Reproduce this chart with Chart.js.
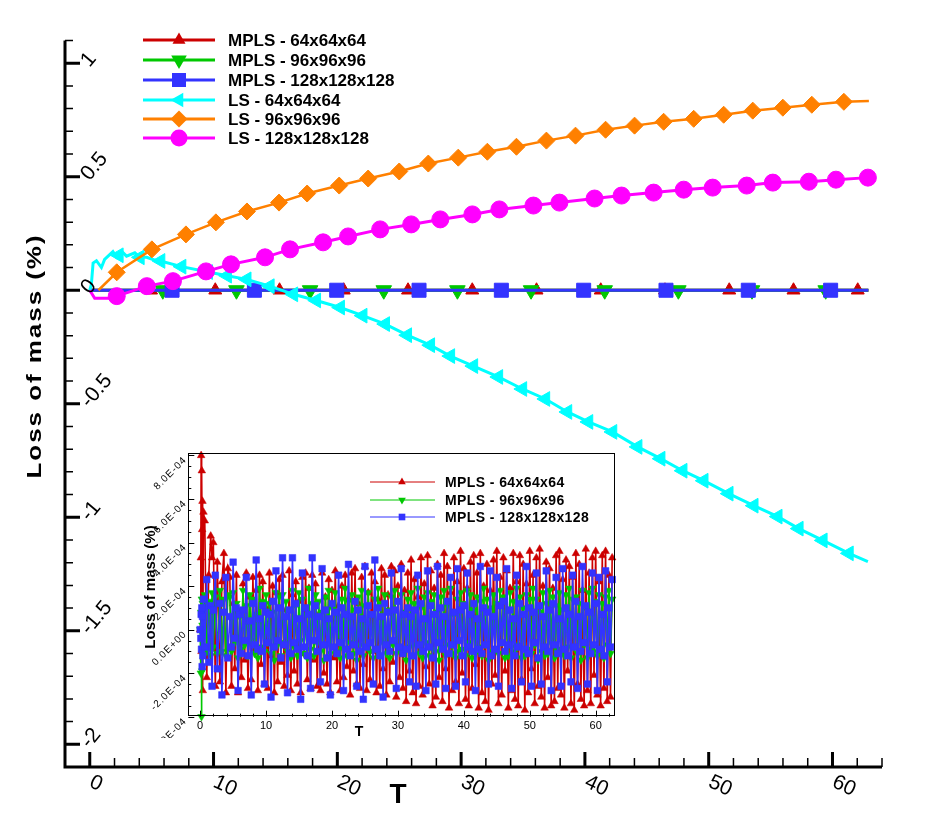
<!DOCTYPE html>
<html>
<head>
<meta charset="utf-8">
<title>Loss of mass</title>
<script src="https://cdn.jsdelivr.net/npm/chart.js@4.4.1/dist/chart.umd.min.js"></script>
<style>
  html, body { margin: 0; padding: 0; background: #fff; }
  #wrap { position: relative; width: 929px; height: 826px; }
  #main  { position: absolute; left: 0; top: 0; }
  #inset { position: absolute; left: 130px; top: 440px; }
</style>
</head>
<body>
<div id="wrap">
  <canvas id="main" width="929" height="826"></canvas>
  <canvas id="inset" width="490" height="310"></canvas>
</div>
<script>
/* ============================================================
   Loss of mass (%) vs T  -  main plot + MPLS zoom inset
   ============================================================ */

/* ---------- Main plot: axes ---------- */
const mainXTicks  = [0, 10, 20, 30, 40, 50, 60];
const mainXLabels = ["0", "10", "20", "30", "40", "50", "60"];
const mainYTicks  = [-2, -1.5, -1, -0.5, 0, 0.5, 1];
const mainYLabels = ["-2", "-1.5", "-1", "-0.5", "0", "0.5", "1"];

const seriesLabels = ["MPLS - 64x64x64", "MPLS - 96x96x96", "MPLS - 128x128x128",
                      "LS - 64x64x64", "LS - 96x96x96", "LS - 128x128x128"];

/* ---------- Main plot: MPLS (flat at zero) ---------- */
const mpls64LineT  = [0, 62.9];
const mpls64LineV  = [0, 0];
const mpls64MarkT  = [4.95, 10.14, 15.33, 20.52, 25.71, 30.9, 36.09, 41.28, 46.47, 51.66, 56.85, 62.04];
const mpls64MarkV  = [0, 0, 0, 0, 0, 0, 0, 0, 0, 0, 0, 0];

const mpls96LineT  = [0, 62.9];
const mpls96LineV  = [0, 0];
const mpls96MarkT  = [5.9, 11.85, 17.8, 23.75, 29.7, 35.65, 41.6, 47.55, 53.5, 59.45];
const mpls96MarkV  = [0, 0, 0, 0, 0, 0, 0, 0, 0, 0];

const mpls128LineT = [0, 62.9];
const mpls128LineV = [0, 0];
const mpls128MarkT = [6.65, 13.3, 19.95, 26.6, 33.25, 39.9, 46.55, 53.2, 59.85];
const mpls128MarkV = [0, 0, 0, 0, 0, 0, 0, 0, 0];

/* ---------- Main plot: LS 64 (cyan) ---------- */
const ls64LineT = [0, 0.13, 0.27, 0.54, 0.94, 1.2, 1.87, 2.16, 2.35, 2.56, 2.97, 3.64, 4.05, 4.59, 5.4, 5.72,
                   7.42, 9.57, 11.1, 12.68, 14.55, 16.45, 18.3, 20.23, 22.05, 23.87, 25.65, 27.51, 29.13, 30.99,
                   33.01, 34.95, 36.81, 38.59, 40.29, 42.23, 44.26, 46.12, 47.9, 49.6, 51.62, 53.64, 55.58,
                   57.28, 59.22, 61.33, 62.86];
const ls64LineV = [0, 0.026, 0.12, 0.13, 0.1, 0.136, 0.17, 0.145, 0.154, 0.172, 0.15, 0.165, 0.145, 0.145, 0.13, 0.129,
                   0.104, 0.08, 0.064, 0.048, 0.018, -0.018, -0.045, -0.076, -0.112, -0.149, -0.198, -0.242, -0.29, -0.334,
                   -0.382, -0.435, -0.479, -0.536, -0.58, -0.624, -0.69, -0.742, -0.795, -0.839, -0.896, -0.949, -0.997,
                   -1.05, -1.102, -1.159, -1.195];
const ls64MarkT = [2.35, 4.05, 5.72, 7.42, 9.57, 11.1, 12.68, 14.55, 16.45, 18.3, 20.23, 22.05, 23.87, 25.65, 27.51,
                   29.13, 30.99, 33.01, 34.95, 36.81, 38.59, 40.29, 42.23, 44.26, 46.12, 47.9, 49.6, 51.62, 53.64,
                   55.58, 57.28, 59.22, 61.33];
const ls64MarkV = [0.154, 0.145, 0.129, 0.104, 0.08, 0.064, 0.048, 0.018, -0.018, -0.045, -0.076, -0.112, -0.149, -0.198,
                   -0.242, -0.29, -0.334, -0.382, -0.435, -0.479, -0.536, -0.58, -0.624, -0.69, -0.742, -0.795, -0.839,
                   -0.896, -0.949, -0.997, -1.05, -1.102, -1.159];

/* ---------- Main plot: LS 96 (orange) ---------- */
const ls96LineT = [0.7, 2.18, 5.02, 7.77, 10.19, 12.7, 15.29, 17.56, 20.15, 22.49, 25.0, 27.35, 29.77, 32.12,
                   34.47, 36.89, 39.24, 41.67, 44.01, 46.36, 48.79, 51.21, 53.56, 55.99, 58.33, 60.92, 62.94];
const ls96LineV = [0, 0.079, 0.18, 0.246, 0.299, 0.347, 0.386, 0.426, 0.461, 0.492, 0.523, 0.558, 0.584, 0.61,
                   0.632, 0.659, 0.681, 0.707, 0.725, 0.742, 0.755, 0.773, 0.791, 0.804, 0.817, 0.83, 0.834];
const ls96MarkT = [2.18, 5.02, 7.77, 10.19, 12.7, 15.29, 17.56, 20.15, 22.49, 25.0, 27.35, 29.77, 32.12,
                   34.47, 36.89, 39.24, 41.67, 44.01, 46.36, 48.79, 51.21, 53.56, 55.99, 58.33, 60.92];
const ls96MarkV = [0.079, 0.18, 0.246, 0.299, 0.347, 0.386, 0.426, 0.461, 0.492, 0.523, 0.558, 0.584, 0.61,
                   0.632, 0.659, 0.681, 0.707, 0.725, 0.742, 0.755, 0.773, 0.791, 0.804, 0.817, 0.83];

/* ---------- Main plot: LS 128 (magenta) ---------- */
const ls128LineT = [0, 0.4, 1.5, 2.18, 4.61, 6.72, 9.39, 11.41, 14.16, 16.18, 18.85, 20.87, 23.46, 25.97, 28.32,
                    30.91, 33.09, 35.84, 37.94, 40.78, 42.96, 45.55, 47.98, 50.32, 53.07, 55.18, 58.09, 60.28, 62.86];
const ls128LineV = [0, -0.035, -0.035, -0.026, 0.018, 0.04, 0.083, 0.114, 0.145, 0.18, 0.211, 0.237, 0.268, 0.29, 0.312,
                    0.334, 0.356, 0.373, 0.386, 0.404, 0.417, 0.43, 0.443, 0.452, 0.461, 0.474, 0.478, 0.487, 0.496];
const ls128MarkT = [2.18, 4.61, 6.72, 9.39, 11.41, 14.16, 16.18, 18.85, 20.87, 23.46, 25.97, 28.32,
                    30.91, 33.09, 35.84, 37.94, 40.78, 42.96, 45.55, 47.98, 50.32, 53.07, 55.18, 58.09, 60.28, 62.86];
const ls128MarkV = [-0.026, 0.018, 0.04, 0.083, 0.114, 0.145, 0.18, 0.211, 0.237, 0.268, 0.29, 0.312,
                    0.334, 0.356, 0.373, 0.386, 0.404, 0.417, 0.43, 0.443, 0.452, 0.461, 0.474, 0.478, 0.487, 0.496];

/* ---------- Inset: MPLS only, values in units of 1E-04 % ---------- */
const insetXTicks  = [0, 10, 20, 30, 40, 50, 60];
const insetXLabels = ["0", "10", "20", "30", "40", "50", "60"];
const insetYTicks  = [-4, -2, 0, 2, 4, 6, 8];
const insetYLabels = ["-4.0E-04", "-2.0E-04", "0.0E+00", "2.0E-04", "4.0E-04", "6.0E-04", "8.0E-04"];
const insetLabels  = ["MPLS - 64x64x64", "MPLS - 96x96x96", "MPLS - 128x128x128"];

const insetT = [0, 0.1, 0.15, 0.2, 0.25, 0.3, 0.35, 0.4, 0.5, 0.7, 1.0, 1.3, 1.6, 1.8, 2.0, 2.3, 2.6, 3.0, 3.3, 3.6, 3.9, 4.2,
  4.5, 4.75, 5, 5.25, 5.5, 5.75, 6, 6.25,
  6.5, 6.75, 7, 7.25, 7.5, 7.75, 8, 8.25,
  8.5, 8.75, 9, 9.25, 9.5, 9.75, 10, 10.25,
  10.5, 10.75, 11, 11.25, 11.5, 11.75, 12, 12.25,
  12.5, 12.75, 13, 13.25, 13.5, 13.75, 14, 14.25,
  14.5, 14.75, 15, 15.25, 15.5, 15.75, 16, 16.25,
  16.5, 16.75, 17, 17.25, 17.5, 17.75, 18, 18.25,
  18.5, 18.75, 19, 19.25, 19.5, 19.75, 20, 20.25,
  20.5, 20.75, 21, 21.25, 21.5, 21.75, 22, 22.25,
  22.5, 22.75, 23, 23.25, 23.5, 23.75, 24, 24.25,
  24.5, 24.75, 25, 25.25, 25.5, 25.75, 26, 26.25,
  26.5, 26.75, 27, 27.25, 27.5, 27.75, 28, 28.25,
  28.5, 28.75, 29, 29.25, 29.5, 29.75, 30, 30.25,
  30.5, 30.75, 31, 31.25, 31.5, 31.75, 32, 32.25,
  32.5, 32.75, 33, 33.25, 33.5, 33.75, 34, 34.25,
  34.5, 34.75, 35, 35.25, 35.5, 35.75, 36, 36.25,
  36.5, 36.75, 37, 37.25, 37.5, 37.75, 38, 38.25,
  38.5, 38.75, 39, 39.25, 39.5, 39.75, 40, 40.25,
  40.5, 40.75, 41, 41.25, 41.5, 41.75, 42, 42.25,
  42.5, 42.75, 43, 43.25, 43.5, 43.75, 44, 44.25,
  44.5, 44.75, 45, 45.25, 45.5, 45.75, 46, 46.25,
  46.5, 46.75, 47, 47.25, 47.5, 47.75, 48, 48.25,
  48.5, 48.75, 49, 49.25, 49.5, 49.75, 50, 50.25,
  50.5, 50.75, 51, 51.25, 51.5, 51.75, 52, 52.25,
  52.5, 52.75, 53, 53.25, 53.5, 53.75, 54, 54.25,
  54.5, 54.75, 55, 55.25, 55.5, 55.75, 56, 56.25,
  56.5, 56.75, 57, 57.25, 57.5, 57.75, 58, 58.25,
  58.5, 58.75, 59, 59.25, 59.5, 59.75, 60, 60.25,
  60.5, 60.75, 61, 61.25, 61.5, 61.75, 62, 62.25,
  62.5];

const insetV64 = [0, 3.3, 8.0, -1.0, 7.3, 4.6, 5.9, -2.8, 5.4, 5.0, -2.2, 2.5, 4.3, 3.3, 4.0, -2.6, 3.1, -2.4, 2.2, 3.5, -2.9, 2.8,
  2.4, -2.6, 1.2, -1.8, 2.5, -2.9, 0.8, -2.2,
  2.1, -1.4, 2.6, -2.7, 1.5, -2.3, 2.4, -0.9,
  1.8, -2.8, 2.5, -1.6, 2.2, -2.5, 1.0, -2.7,
  2.6, -1.2, 2.0, -2.9, 1.7, -2.4, 2.3, -1.5,
  2.5, -2.6, 0.9, -2.1, 2.7, -2.8, 1.6, -1.9,
  2.2, -2.5, 1.3, -2.9, 2.4, -1.1, 2.6, -2.3,
  1.9, -2.7, 2.5, -1.4, 2.1, -2.6, 0.7, -2.8,
  2.6, -2.0, 1.5, -2.5, 2.3, -2.9, 1.8, -1.3,
  2.7, -2.4, 1.1, -2.8, 2.0, -2.2, 2.5, -1.7,
  1.4, -3.0, 2.6, -1.9, 2.8, -2.5, 1.2, -2.7,
  2.4, -1.6, 2.9, -2.8, 1.7, -2.3, 2.6, -1.0,
  2.2, -2.9, 1.4, -2.6, 2.8, -1.8, 2.5, -3.0,
  1.6, -2.4, 2.9, -1.5, 2.7, -3.1, 2.0, -2.2,
  3.0, -2.7, 1.8, -3.3, 2.6, -1.9, 3.2, -2.9,
  2.3, -3.4, 1.5, -2.6, 3.3, -3.0, 2.1, -1.7,
  3.4, -2.5, 2.7, -3.5, 1.9, -3.1, 3.0, -2.2,
  2.5, -3.3, 3.5, -1.8, 2.9, -3.6, 1.7, -2.8,
  3.3, -2.4, 2.2, -3.4, 3.6, -2.0, 2.8, -3.2,
  1.9, -3.5, 3.1, -2.7, 3.4, -1.6, 2.6, -3.6,
  3.5, -2.9, 2.0, -3.3, 3.0, -3.7, 1.8, -2.5,
  3.2, -2.1, 3.6, -3.4, 2.4, -3.0, 3.3, -1.9,
  2.7, -3.6, 1.9, -2.8, 3.5, -3.2, 2.2, -3.5,
  3.4, -2.3, 3.0, -3.7, 2.1, -2.9, 3.6, -1.8,
  2.5, -3.4, 3.3, -2.6, 3.7, -3.1, 2.0, -3.6,
  3.1, -2.2, 2.8, -3.5, 1.9, -3.3, 3.4, -2.7,
  3.6, -3.0, 2.3, -3.6, 3.2, -1.9, 2.9, -3.4,
  2.4, -3.7, 3.5, -2.5, 3.0, -3.2, 1.8, -3.5,
  3.7, -2.8, 2.6, -3.4, 3.3, -2.1, 3.6, -3.0,
  2.2, -3.5, 3.4, -2.7, 3.6, -3.3, 2.5, -3.1,
  3.3];

const insetV96 = [0, -2.0, 0.8, -4.0, 1.4, -1.9, 0.2, 1.2, -0.9, 1.6, -1.0, 1.3, -1.2, 1.7, -0.8, 1.5, -1.1, 1.8, -1.0, 1.4, -1.2, 1.6,
  1.5, -1.0, 1.7, -0.6, 1.2, -1.3, 0.6, -0.9,
  1.8, -0.7, 1.1, -1.2, 1.6, -0.5, 1.4, -1.1,
  0.7, -1.3, 1.9, -0.8, 1.3, -1.0, 1.6, -0.6,
  1.2, -1.1, 0.8, -1.4, 1.7, -0.7, 1.5, -1.2,
  1.6, -0.6, 1.3, -1.0, 0.9, -1.3, 1.8, -0.8,
  1.1, -1.2, 1.7, -0.5, 1.4, -1.1, 0.7, -1.3,
  1.9, -0.9, 1.2, -1.2, 1.6, -0.6, 1.3, -1.0,
  0.8, -1.4, 1.5, -0.7, 1.8, -1.1, 1.0, -0.8,
  1.7, -1.0, 0.6, -1.3, 1.4, -0.9, 1.9, -1.2,
  1.3, -0.6, 1.6, -1.1, 0.9, -1.4, 1.5, -0.7,
  1.8, -1.2, 1.1, -0.8, 1.7, -1.0, 0.7, -1.3,
  1.4, -0.9, 1.9, -1.2, 1.2, -0.6, 1.6, -1.1,
  0.9, -1.3, 1.5, -0.7, 1.8, -1.1, 1.3, -0.9,
  1.6, -1.0, 0.8, -1.4, 1.4, -0.8, 1.7, -1.2,
  1.2, -0.7, 1.9, -1.1, 1.0, -1.3, 1.5, -0.6,
  1.7, -1.2, 1.3, -0.9, 1.6, -1.0, 0.8, -1.4,
  1.5, -0.8, 1.8, -1.2, 1.1, -0.7, 1.9, -1.1,
  0.7, -1.3, 1.4, -1.0, 1.7, -0.9, 1.2, -1.2,
  1.8, -0.6, 1.6, -1.3, 0.9, -1.1, 1.5, -0.8,
  1.3, -1.2, 1.9, -0.7, 1.4, -1.4, 1.0, -1.0,
  1.6, -0.9, 1.2, -1.1, 1.8, -0.6, 1.5, -1.3,
  0.8, -1.2, 1.7, -0.8, 1.3, -1.0, 1.9, -0.7,
  1.5, -1.3, 1.0, -1.2, 1.6, -0.9, 1.4, -1.1,
  1.9, -0.7, 1.4, -1.4, 0.8, -1.0, 1.7, -1.2,
  1.2, -1.1, 1.8, -0.6, 1.5, -1.3, 1.1, -0.9,
  1.7, -1.0, 0.9, -1.2, 1.6, -0.8, 1.9, -1.3,
  1.4, -0.8, 1.5, -1.1, 1.2, -1.4, 1.8, -0.7,
  1.0, -1.3, 1.7, -0.9, 1.9, -1.0, 1.3, -1.2,
  1.6, -0.9, 1.2, -1.3, 1.5, -0.7, 1.8, -1.1,
  1.4];

const insetV128 = [0, -0.4, 0.7, -0.9, 1.0, -1.7, 0.6, -1.2, 1.4, -0.8, 2.3, -1.5, 1.1, -2.6, 0.9, 2.5, -1.8, 1.2, -3.0, 0.8, 2.4, -1.3,
  0.6, -0.8, 3.1, -0.4, 1.0, -2.8, 0.7, -1.1,
  0.9, -0.5, 2.4, -1.2, 0.4, -3.0, 1.2, -0.7,
  3.2, -0.9, 0.5, -1.0, 1.1, -2.5, 0.8, -0.6,
  0.7, -3.1, 1.3, -0.8, 2.7, -0.5, 1.0, -1.3,
  3.3, -0.7, 0.6, -2.9, 0.9, -1.1, 3.3, -0.6,
  1.2, -0.9, 0.5, -3.2, 2.6, -0.8, 1.0, -1.2,
  0.7, -2.7, 3.3, -0.5, 1.1, -1.0, 0.6, -2.4,
  2.8, -0.7, 0.9, -1.3, 0.5, -3.0, 1.2, -0.8,
  0.8, -1.1, 2.5, -0.6, 1.0, -2.8, 0.7, -0.9,
  3.0, -1.2, 0.6, -0.7, 1.3, -2.6, 0.9, -1.0,
  0.5, -3.2, 2.9, -0.8, 1.1, -0.6, 0.7, -2.5,
  3.2, -0.9, 1.0, -1.2, 0.6, -3.1, 1.2, -0.7,
  0.8, -1.0, 2.6, -0.5, 0.9, -2.7, 1.3, -0.8,
  2.8, -1.1, 0.7, -0.9, 1.0, -2.4, 0.6, -1.2,
  0.9, -2.6, 2.5, -0.7, 1.2, -1.0, 0.5, -2.8,
  2.7, -0.8, 1.1, -1.3, 0.7, -2.5, 2.9, -0.6,
  1.0, -0.9, 0.6, -2.7, 1.3, -1.1, 2.4, -0.7,
  0.8, -2.6, 2.8, -0.5, 0.9, -1.2, 1.1, -2.4,
  2.6, -0.8, 0.7, -1.0, 1.2, -2.8, 0.5, -0.9,
  2.9, -1.1, 1.0, -0.7, 0.8, -2.5, 2.7, -1.2,
  0.6, -0.9, 2.4, -2.6, 1.1, -0.6, 1.3, -1.0,
  2.8, -0.7, 0.9, -2.7, 0.5, -1.2, 2.5, -0.8,
  1.2, -2.4, 0.7, -0.9, 2.9, -1.1, 1.0, -2.6,
  0.8, -0.6, 2.6, -1.3, 1.1, -2.5, 0.6, -0.8,
  2.7, -1.0, 0.9, -2.8, 1.2, -0.7, 2.4, -1.1,
  0.5, -2.6, 2.8, -0.9, 1.0, -1.2, 0.7, -2.4,
  2.5, -0.8, 1.3, -2.7, 0.6, -1.0, 2.9, -0.6,
  1.1, -2.5, 0.8, -1.1, 2.6, -0.7, 1.2, -2.8,
  2.4, -0.9, 0.7, -1.2, 2.7, -2.4, 1.0, -0.8,
  2.3];

/* ---------- Styles ---------- */
const mainStyles = [
  { color: "#cc0000", shape: "triangle", rot: 0,   r: 7.5, width: 3 },
  { color: "#00c800", shape: "triangle", rot: 180, r: 9,   width: 3 },
  { color: "#3333ff", shape: "rect",     rot: 0,   r: 9.9, width: 3 },
  { color: "#00ffff", shape: "triangle", rot: -90, r: 8.5, width: 3 },
  { color: "#ff8000", shape: "rectRot",  rot: 0,   r: 8.5, width: 2.5 },
  { color: "#ff00ff", shape: "circle",   rot: 0,   r: 8.5, width: 3 }
];
const insetStyles = [
  { color: "#cc0000", shape: "triangle", rot: 0,   r: 4.4 },
  { color: "#00c800", shape: "triangle", rot: 180, r: 4.4 },
  { color: "#3333ff", shape: "rect",     rot: 0,   r: 4.7 }
];

/* ---------- Helpers ---------- */
const pts = (xs, ys) => xs.map((x, i) => ({ x, y: ys[i] }));
const FONT = "'Liberation Sans', Arial, Helvetica, sans-serif";

function drawMarker(ctx, st, x, y, r) {
  ctx.save();
  ctx.fillStyle = st.color;
  ctx.beginPath();
  if (st.shape === "triangle") {
    let a = st.rot * Math.PI / 180;
    for (let k = 0; k < 3; k++) {
      const px = x + Math.sin(a) * r, py = y - Math.cos(a) * r;
      if (k) ctx.lineTo(px, py); else ctx.moveTo(px, py);
      a += 2 * Math.PI / 3;
    }
    ctx.closePath();
  } else if (st.shape === "rect") {
    const s = Math.SQRT1_2 * r;
    ctx.rect(x - s, y - s, 2 * s, 2 * s);
  } else if (st.shape === "rectRot") {
    ctx.moveTo(x - r, y); ctx.lineTo(x, y - r); ctx.lineTo(x + r, y); ctx.lineTo(x, y + r);
    ctx.closePath();
  } else {
    ctx.arc(x, y, r, 0, Math.PI * 2);
  }
  ctx.fill();
  ctx.restore();
}

function drawLegend(ctx, labels, styles, o) {
  labels.forEach((lab, i) => {
    const st = styles[i], yy = o.rows[i];
    ctx.save();
    ctx.strokeStyle = st.color;
    ctx.lineWidth = o.lineWidth;
    ctx.beginPath(); ctx.moveTo(o.x0, yy); ctx.lineTo(o.x1, yy); ctx.stroke();
    drawMarker(ctx, st, o.xm, yy, st.r);
    ctx.fillStyle = "#000";
    ctx.font = o.font;
    ctx.letterSpacing = o.spacing;
    ctx.textAlign = "left"; ctx.textBaseline = "middle";
    ctx.fillText(lab, o.xt, yy + 1);
    ctx.restore();
  });
}

/* ---------- Main chart decorations (axes, ticks, titles, legend) ---------- */
const mainDecor = {
  id: "mainDecor",
  afterDraw(chart) {
    const { ctx, chartArea: a, scales: { x, y } } = chart;
    ctx.save();
    ctx.strokeStyle = "#000";
    ctx.fillStyle = "#000";

    // minor ticks
    ctx.lineWidth = 1.5;
    ctx.beginPath();
    for (let k = -21; k <= 11; k++) {
      if (k % 5 === 0) continue;
      const py = y.getPixelForValue(k / 10);
      ctx.moveTo(a.left, py); ctx.lineTo(a.left + 8, py);
    }
    for (let k = 1; k <= 32; k++) {
      if ((2 * k) % 10 === 0) continue;
      const px = x.getPixelForValue(2 * k);
      ctx.moveTo(px, a.bottom); ctx.lineTo(px, a.bottom - 9);
    }
    ctx.stroke();

    // major ticks
    ctx.lineWidth = 3;
    ctx.beginPath();
    mainYTicks.forEach(v => { const py = y.getPixelForValue(v); ctx.moveTo(a.left, py); ctx.lineTo(a.left + 15, py); });
    mainXTicks.forEach(v => { const px = x.getPixelForValue(v); ctx.moveTo(px, a.bottom); ctx.lineTo(px, a.bottom - 15); });
    ctx.stroke();

    // axis lines
    ctx.beginPath();
    ctx.moveTo(a.left, a.top); ctx.lineTo(a.left, a.bottom + 1.5);
    ctx.moveTo(a.left - 1.5, a.bottom); ctx.lineTo(a.right, a.bottom);
    ctx.stroke();

    // tick labels (slanted)
    ctx.font = "21px " + FONT;
    ctx.textAlign = "left"; ctx.textBaseline = "middle";
    mainYTicks.forEach((v, i) => {
      ctx.save();
      ctx.translate(a.left + 20, y.getPixelForValue(v) + 1);
      ctx.rotate(-50 * Math.PI / 180);
      ctx.fillText(mainYLabels[i], 0, 0);
      ctx.restore();
    });
    mainXTicks.forEach((v, i) => {
      ctx.save();
      ctx.translate(x.getPixelForValue(v) + 1, a.bottom + 14);
      ctx.rotate(25 * Math.PI / 180);
      ctx.fillText(mainXLabels[i], 0, 0);
      ctx.restore();
    });

    // axis titles
    ctx.save();
    ctx.translate(40.5, 356);
    ctx.rotate(-Math.PI / 2);
    ctx.scale(1.3, 1);
    ctx.font = "bold 20px " + FONT;
    ctx.letterSpacing = "1.5px";
    ctx.textAlign = "center"; ctx.textBaseline = "alphabetic";
    ctx.fillText("Loss of mass (%)", 0, 0);
    ctx.restore();

    ctx.font = "bold 28px " + FONT;
    ctx.textAlign = "center"; ctx.textBaseline = "alphabetic";
    ctx.fillText("T", 398, 803);
    ctx.restore();

    drawLegend(ctx, seriesLabels, mainStyles, {
      x0: 143, x1: 215, xm: 179, xt: 228, rows: [40, 60, 80, 100, 119, 138],
      lineWidth: 3, font: "bold 17px " + FONT, spacing: "0px"
    });
  }
};

/* ---------- Main chart ---------- */
const mainSeries = [
  [mpls64LineT, mpls64LineV, mpls64MarkT, mpls64MarkV],
  [mpls96LineT, mpls96LineV, mpls96MarkT, mpls96MarkV],
  [mpls128LineT, mpls128LineV, mpls128MarkT, mpls128MarkV],
  [ls64LineT, ls64LineV, ls64MarkT, ls64MarkV],
  [ls96LineT, ls96LineV, ls96MarkT, ls96MarkV],
  [ls128LineT, ls128LineV, ls128MarkT, ls128MarkV]
];
const mainDatasets = [];
mainSeries.forEach((s, i) => {
  const st = mainStyles[i];
  const z = (5 - i) * 2; // later series drawn on top
  mainDatasets.push({
    label: seriesLabels[i], data: pts(s[0], s[1]), showLine: true,
    borderColor: st.color, borderWidth: st.width, pointRadius: 0, tension: 0, order: z + 1
  });
  mainDatasets.push({
    label: seriesLabels[i] + " markers", data: pts(s[2], s[3]), showLine: false,
    pointStyle: st.shape, pointRotation: st.rot, pointRadius: st.r,
    pointBackgroundColor: st.color, pointBorderColor: st.color, pointBorderWidth: 1, order: z
  });
});

new Chart(document.getElementById("main"), {
  type: "scatter",
  data: { datasets: mainDatasets },
  options: {
    responsive: false, animation: false, devicePixelRatio: 1, events: [],
    layout: { padding: { left: 65, right: 47, top: 40.5, bottom: 59 } },
    scales: {
      x: { type: "linear", min: -2, max: 64, display: false },
      y: { type: "linear", min: -2.1, max: 1.1, display: false }
    },
    plugins: { legend: { display: false }, tooltip: { enabled: false } }
  },
  plugins: [mainDecor]
});

/* ---------- Inset decorations ---------- */
const insetDecor = {
  id: "insetDecor",
  beforeDraw(chart) {
    const { ctx, chartArea: a } = chart;
    ctx.save();
    ctx.fillStyle = "#fff";
    ctx.fillRect(a.left, a.top, a.right - a.left, a.bottom - a.top);
    ctx.restore();
  },
  afterDraw(chart) {
    const { ctx, chartArea: a, scales: { x, y } } = chart;
    ctx.save();
    ctx.strokeStyle = "#000";
    ctx.fillStyle = "#000";
    ctx.lineWidth = 1;
    ctx.strokeRect(Math.round(a.left) + 0.5, Math.round(a.top) + 0.5,
                   Math.round(a.right - a.left) - 1, Math.round(a.bottom - a.top) - 1);

    ctx.beginPath();
    for (let k = -8; k <= 16; k++) {
      const py = Math.round(y.getPixelForValue(k / 2)) + 0.5;
      const len = k % 4 === 0 ? 6 : 3;
      ctx.moveTo(a.left, py); ctx.lineTo(a.left + len, py);
    }
    for (let k = 0; k <= 31; k++) {
      const px = Math.round(x.getPixelForValue(2 * k)) + 0.5;
      const len = (2 * k) % 10 === 0 ? 6 : 3;
      ctx.moveTo(px, a.bottom); ctx.lineTo(px, a.bottom - len);
    }
    ctx.stroke();

    // x tick labels
    ctx.font = "11px " + FONT;
    ctx.textAlign = "center"; ctx.textBaseline = "top";
    insetXTicks.forEach((v, i) => ctx.fillText(insetXLabels[i], x.getPixelForValue(v), a.bottom + 4));

    // y tick labels (slanted, clipped at the frame bottom)
    ctx.save();
    ctx.beginPath(); ctx.rect(0, 0, chart.width, 298); ctx.clip();
    ctx.font = "10px " + FONT;
    ctx.letterSpacing = "1px";
    ctx.textAlign = "right"; ctx.textBaseline = "middle";
    insetYTicks.forEach((v, i) => {
      ctx.save();
      ctx.translate(a.left - 3, y.getPixelForValue(v) + 3);
      ctx.rotate(-Math.PI / 4);
      ctx.fillText(insetYLabels[i], 0, 0);
      ctx.restore();
    });
    ctx.restore();

    // titles
    ctx.save();
    ctx.translate(25, 147);
    ctx.rotate(-Math.PI / 2);
    ctx.font = "bold 15px " + FONT;
    ctx.textAlign = "center"; ctx.textBaseline = "alphabetic";
    ctx.fillText("Loss of mass (%)", 0, 0);
    ctx.restore();

    ctx.font = "bold 14px " + FONT;
    ctx.textAlign = "center"; ctx.textBaseline = "middle";
    ctx.fillText("T", 229, 292);
    ctx.restore();

    drawLegend(ctx, insetLabels, insetStyles, {
      x0: 240, x1: 305, xm: 272, xt: 315, rows: [42, 60, 77],
      lineWidth: 1, font: "bold 14px " + FONT, spacing: "0.4px"
    });
  }
};

/* ---------- Inset chart ---------- */
const insetSeries = [insetV64, insetV96, insetV128];
const insetDatasets = insetSeries.map((vals, i) => {
  const st = insetStyles[i];
  return {
    label: insetLabels[i], data: pts(insetT, vals), showLine: true,
    borderColor: st.color, borderWidth: 1.6, tension: 0,
    pointStyle: st.shape, pointRotation: st.rot, pointRadius: st.r,
    pointBackgroundColor: st.color, pointBorderColor: st.color, pointBorderWidth: 0.5,
    order: 2 - i, clip: false
  };
});

new Chart(document.getElementById("inset"), {
  type: "scatter",
  data: { datasets: insetDatasets },
  options: {
    responsive: false, animation: false, devicePixelRatio: 1, events: [],
    layout: { padding: { left: 58.3, right: 5, top: 13.3, bottom: 33.3 } },
    scales: {
      x: { type: "linear", min: -1.8, max: 62.9, display: false },
      y: { type: "linear", min: -4, max: 8.1, display: false }
    },
    plugins: { legend: { display: false }, tooltip: { enabled: false } }
  },
  plugins: [insetDecor]
});
</script>
</body>
</html>
